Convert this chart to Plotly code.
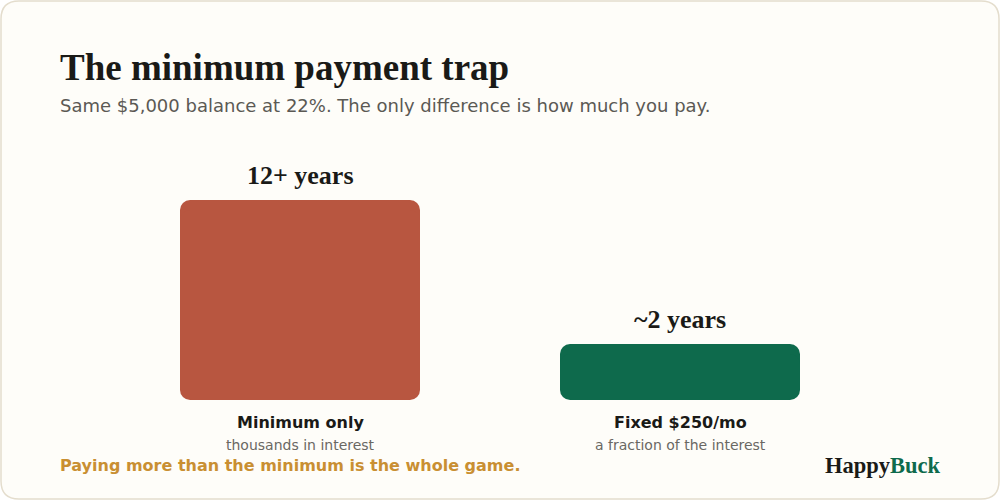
import plotly.graph_objects as go

# data
categories = ["Minimum only", "Fixed $250/mo"]
interest_index = [100, 28]          # relative interest paid (bar height)
payoff_labels = ["12+ years", "~2 years"]
sublabels = ["thousands in interest", "a fraction of the interest"]
bar_colors = ["#b85640", "#0e6a4c"]

INK = "#1a1a17"; SUB = "#5b5954"; GOLD = "#c98f32"; GREEN = "#0e6a4c"
SERIF = "Liberation Serif, Times New Roman, serif"
SANS = "DejaVu Sans, sans-serif"
BG = "#fefdf9"; BORDER = "#e4ddcd"

xs = list(range(len(categories)))
RAD = 5  # corner radius in y units (2px per unit)
BW = 0.6316
bar = dict(width=BW, hoverinfo="skip")

fig = go.Figure()
# rounded top end, rounded bottom end, square middle -> all four corners rounded
fig.add_trace(go.Bar(x=xs, y=[v - RAD for v in interest_index], base=[RAD] * 2,
                     marker=dict(color=bar_colors, line=dict(width=0), cornerradius=10), **bar))
fig.add_trace(go.Bar(x=xs, y=[-(v - RAD) for v in interest_index], base=[v - RAD for v in interest_index],
                     marker=dict(color=bar_colors, line=dict(width=0), cornerradius=10), **bar))
fig.add_trace(go.Bar(x=xs, y=[v - 4 * RAD for v in interest_index], base=[2 * RAD] * 2,
                     marker=dict(color=bar_colors, line=dict(width=0), cornerradius=0), **bar))

for x, v, lab, cat, sub in zip(xs, interest_index, payoff_labels, categories, sublabels):
    fig.add_annotation(x=x, y=v, text=f"<b>{lab}</b>", showarrow=False, yanchor="bottom", yshift=8,
                       font=dict(family=SERIF, size=26, color=INK))
    fig.add_annotation(x=x, y=0, text=f"<b>{cat}</b>", showarrow=False, yanchor="top", yshift=-11,
                       font=dict(family=SANS, size=16, color=INK))
    fig.add_annotation(x=x, y=0, text=sub, showarrow=False, yanchor="top", yshift=-35,
                       font=dict(family=SANS, size=14, color="#6a6863"))

# card background (rounded)
r = 18
W, H = 1000, 500
x0, y0, x1, y1 = 1, 1, W - 1, H - 1
def px(x): return x / W
def py(y): return (400 - y) / 400
path = (f"M {px(x0+r)},{py(y0)} L {px(x1-r)},{py(y0)} Q {px(x1)},{py(y0)} {px(x1)},{py(y0+r)} "
        f"L {px(x1)},{py(y1-r)} Q {px(x1)},{py(y1)} {px(x1-r)},{py(y1)} "
        f"L {px(x0+r)},{py(y1)} Q {px(x0)},{py(y1)} {px(x0)},{py(y1-r)} "
        f"L {px(x0)},{py(y0+r)} Q {px(x0)},{py(y0)} {px(x0+r)},{py(y0)} Z")
fig.add_shape(type="path", path=path, xref="paper", yref="paper", layer="below",
              fillcolor=BG, line=dict(color=BORDER, width=1.5))

fig.add_annotation(text="<b>The minimum payment trap</b>", xref="paper", yref="paper", x=px(58), y=py(67.5),
                   xanchor="left", yanchor="middle", showarrow=False, font=dict(family=SERIF, size=37, color=INK))
fig.add_annotation(text="Same $5,000 balance at 22%. The only difference is how much you pay.", xref="paper", yref="paper",
                   x=px(58), y=py(105.5), xanchor="left", yanchor="middle", showarrow=False,
                   font=dict(family=SANS, size=18, color=SUB))
fig.add_annotation(text="<b>Paying more than the minimum is the whole game.</b>", xref="paper", yref="paper",
                   x=px(58), y=py(465), xanchor="left", yanchor="middle", showarrow=False,
                   font=dict(family=SANS, size=16, color=GOLD))
fig.add_annotation(text=f"<b>Happy<span style='color:{GREEN}'>Buck</span></b>", xref="paper", yref="paper",
                   x=px(942.5), y=py(465), xanchor="right", yanchor="middle", showarrow=False,
                   font=dict(family=SERIF, size=22.5, color=INK))

fig.update_layout(width=1000, height=500, margin=dict(l=0, r=0, t=0, b=100),
                  paper_bgcolor="white", plot_bgcolor="rgba(0,0,0,0)", showlegend=False,
                  barmode="overlay")
fig.update_xaxes(range=[-300 / 380, 700 / 380], visible=False, fixedrange=True)
fig.update_yaxes(range=[0, 200], visible=False, fixedrange=True)
fig.write_html("out.html", config={"displayModeBar": False},
               post_script="document.body.style.margin='0';document.body.style.overflow='hidden';")
